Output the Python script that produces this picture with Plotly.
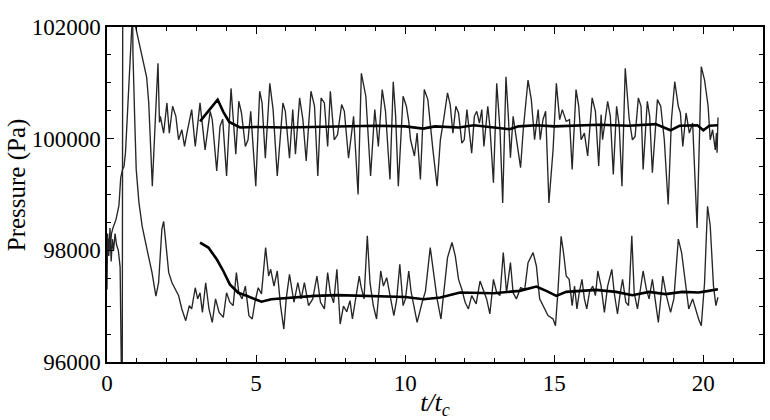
import plotly.graph_objects as go

# ---------------- data ----------------
upper_t = [0.00, 0.05, 0.10, 0.15, 0.20, 0.30, 0.40, 0.46, 0.52, 0.57, 0.62, 0.70, 0.76, 0.81, 0.86, 0.92,
           1.00, 1.07, 1.23, 1.33, 1.40, 1.47, 1.52, 1.62, 1.71, 1.76, 1.79, 1.90, 2.01, 2.09, 2.20, 2.31,
           2.40, 2.51, 2.60, 2.68, 2.76, 2.84, 2.96, 3.12, 3.29, 3.46, 3.53, 3.68, 3.79, 3.88, 4.01, 4.16,
           4.32, 4.42, 4.51, 4.64, 4.73, 4.82, 4.99, 5.12, 5.20, 5.31, 5.46, 5.57, 5.71, 5.90, 5.98, 6.12,
           6.23, 6.32, 6.46, 6.57, 6.68, 6.84, 6.96, 7.07, 7.18, 7.29, 7.40, 7.49, 7.62, 7.73, 7.87, 7.96,
           8.10, 8.27, 8.42, 8.53, 8.68, 8.84, 8.98, 9.10, 9.23, 9.34, 9.49, 9.60, 9.68, 9.77, 9.93, 10.04,
           10.12, 10.18, 10.31, 10.40, 10.51, 10.64, 10.76, 10.84, 10.93, 11.07, 11.18, 11.29, 11.42, 11.51,
           11.60, 11.70, 11.79, 11.90, 11.98, 12.07, 12.16, 12.23, 12.32, 12.40, 12.49, 12.57, 12.64, 12.77,
           12.84, 12.96, 13.07, 13.18, 13.27, 13.38, 13.46, 13.53, 13.62, 13.71, 13.87, 13.96, 14.12, 14.23,
           14.34, 14.46, 14.53, 14.62, 14.71, 14.82, 14.96, 15.07, 15.18, 15.27, 15.40, 15.51, 15.60, 15.73,
           15.82, 15.90, 16.01, 16.12, 16.27, 16.38, 16.49, 16.57, 16.62, 16.79, 16.88, 16.98, 17.09, 17.18,
           17.27, 17.38, 17.51, 17.62, 17.71, 17.82, 17.91, 17.98, 18.12, 18.20, 18.29, 18.46, 18.57, 18.69,
           18.82, 18.93, 19.04, 19.16, 19.23, 19.31, 19.42, 19.53, 19.64, 19.79, 19.93, 20.04, 20.16, 20.23,
           20.31, 20.40, 20.44, 20.46, 20.49]
upper_p = [97900, 98200, 98000, 98300, 98400, 98550, 98800, 99300, 99450, 99500, 99750, 100700, 101500, 102050, 102300, 102100,
           101900, 101720, 101360, 101100, 100640, 99750, 99150, 100340, 101350, 100290, 100400, 100100, 100640, 100100, 100580, 100400,
           99980, 100160, 99860, 100100, 100340, 100520, 99860, 100640, 99800, 100490, 100340, 99420, 100220, 100350, 99330, 100900,
           99720, 100670, 100460, 99860, 99980, 100490, 99150, 100850, 100640, 99650, 100990, 100520, 99330, 100640, 100490, 99650,
           100520, 99720, 100730, 100340, 99600, 100850, 100580, 99330, 100730, 100640, 99860, 100850, 99980, 100070, 100610, 100490,
           99650, 100400, 99000, 101170, 100760, 99330, 100520, 99860, 100880, 100490, 99270, 101020, 100400, 99150, 100760, 100580,
           100310, 99980, 99690, 100100, 99270, 100880, 100700, 100220, 99800, 99150, 99980, 100340, 100820, 100610,
           100100, 100580, 100460, 99920, 99980, 100520, 100100, 99740, 100400, 100490, 100280, 100520, 99860, 100580,
           100220, 99210, 100990, 100160, 98850, 101110, 100400, 99660, 100400, 100040, 99480, 100160, 101050, 100700,
           99980, 100520, 99980, 100340, 100490, 98850, 99800, 100990, 100340, 100520, 100310, 100340, 99450, 100880,
           100580, 99980, 100100, 99690, 100730, 100490, 99510, 100430, 99980, 100670, 100400, 99360, 100580, 100220,
           99150, 101260, 100370, 99980, 100040, 100730, 100580, 99450, 100670, 100400, 99390, 100700, 100580, 99980,
           98820, 100340, 101020, 100580, 100460, 99860, 100460, 100100, 100280, 98400, 101290, 101050, 100580, 99980,
           100160, 99800, 100100, 99750, 100380]

lower_t = [0.00, 0.02, 0.06, 0.10, 0.14, 0.18, 0.22, 0.27, 0.32, 0.38, 0.44, 0.48, 0.50, 0.51, 0.53, 0.85,
           0.87, 0.93, 0.98, 1.07, 1.18, 1.34, 1.51, 1.64, 1.73, 1.84, 1.90, 1.96, 2.07, 2.18, 2.29, 2.40,
           2.51, 2.64, 2.76, 2.84, 2.96, 3.04, 3.12, 3.20, 3.31, 3.42, 3.53, 3.64, 3.76, 3.90, 4.01, 4.12,
           4.23, 4.34, 4.42, 4.53, 4.64, 4.76, 4.87, 4.96, 5.07, 5.18, 5.32, 5.42, 5.49, 5.60, 5.71, 5.82,
           5.93, 6.01, 6.12, 6.27, 6.40, 6.51, 6.62, 6.76, 6.90, 7.04, 7.16, 7.29, 7.40, 7.49, 7.60, 7.71,
           7.82, 7.93, 8.04, 8.15, 8.23, 8.34, 8.46, 8.52, 8.62, 8.73, 8.82, 8.93, 9.04, 9.18, 9.27, 9.38,
           9.49, 9.62, 9.71, 9.82, 9.93, 10.01, 10.12, 10.20, 10.29, 10.40, 10.57, 10.68, 10.84, 10.96,
           11.07, 11.20, 11.31, 11.42, 11.57, 11.68, 11.79, 11.90, 12.01, 12.12, 12.23, 12.38, 12.51, 12.62,
           12.73, 12.84, 12.96, 13.07, 13.18, 13.29, 13.40, 13.53, 13.62, 13.73, 13.87, 14.01, 14.12, 14.29,
           14.40, 14.51, 14.68, 14.79, 14.96, 15.04, 15.12, 15.23, 15.31, 15.40, 15.50, 15.60, 15.68, 15.76,
           15.84, 15.93, 16.01, 16.09, 16.18, 16.29, 16.38, 16.46, 16.57, 16.68, 16.79, 16.93, 17.01, 17.12,
           17.20, 17.29, 17.40, 17.49, 17.60, 17.68, 17.79, 17.90, 17.98, 18.09, 18.18, 18.29, 18.38, 18.49,
           18.57, 18.64, 18.76, 18.90, 19.01, 19.16, 19.27, 19.40, 19.51, 19.64, 19.76, 19.84, 19.93, 20.04,
           20.14, 20.23, 20.34, 20.42, 20.49]
lower_p = [97300, 98300, 97900, 98400, 97800, 98200, 98000, 98300, 98100, 98000, 97700, 96800, 95000, 95000, 103500, 103000,
           101540, 100340, 99450, 98860, 98430, 98020, 97600, 97180, 97420, 98380, 98520, 98200, 97600, 97420, 97300, 97190,
           96950, 96740, 97010, 96950, 97330, 97130, 97240, 96890, 97420, 96950, 96710, 97130, 96890, 96800, 97240, 97070,
           97010, 97600, 97240, 97130, 97360, 96830, 96770, 97070, 97330, 97220, 98050, 97540, 97660, 97360, 97630, 97010,
           96590, 97130, 97570, 97070, 97420, 97130, 97420, 97010, 97130, 97540, 97070, 96950, 97600, 97240, 97060, 97660,
           96680, 97000, 96900, 97100, 96770, 97150, 97540, 97350, 97130, 98260, 97420, 97010, 96770, 97630, 97360, 97510,
           97200, 96830, 97100, 97750, 97010, 97130, 97630, 97250, 97010, 96710, 97070, 97270, 98050, 97540,
           97130, 96770, 97300, 97870, 98140, 97900, 97480, 97300, 97070, 96950, 97190, 97040, 97450, 97300,
           97130, 96860, 97480, 97240, 97190, 97960, 97240, 97780, 97240, 97130, 97330, 97300, 97780, 97960,
           97720, 97130, 96950, 96830, 96770, 96650, 97240, 98250, 97960, 97540, 97480, 97010, 97360, 96950,
           97250, 97480, 97130, 96950, 97250, 97360, 97190, 97630, 97360, 96890, 97360, 97660, 97240, 96860,
           97190, 97480, 97070, 97010, 98260, 97240, 96950, 97360, 97630, 97300, 97130, 97480, 97130, 96710,
           97130, 97540, 97190, 96890, 97130, 98200, 97960, 97360, 96950, 97130, 96890, 96770, 96650, 97420,
           98790, 98440, 97360, 97010, 97160]

upper_mean_t = [3.12, 3.40, 3.71, 3.90, 4.10, 4.46, 5.0, 6.0, 7.0, 8.0, 9.0, 10.0, 10.6, 11.0, 11.8, 12.3,
                13.0, 13.5, 13.8, 14.4, 15.0, 15.6, 16.5, 17.5, 18.4, 18.9, 19.2, 19.8, 20.0, 20.2, 20.49]
upper_mean_p = [100310, 100500, 100700, 100480, 100300, 100200, 100210, 100200, 100210, 100220, 100230, 100220,
                100180, 100220, 100200, 100240, 100200, 100170, 100220, 100240, 100220, 100230, 100250, 100230,
                100260, 100150, 100230, 100240, 100150, 100230, 100240]

lower_mean_t = [3.12, 3.40, 3.68, 3.90, 4.12, 4.40, 4.68, 4.96, 5.18, 5.51, 6.18, 6.96, 7.73, 8.5, 9.62, 10.0,
                10.62, 11.18, 11.84, 12.96, 13.84, 14.4, 14.73, 15.07, 15.4, 16.4, 17.07, 17.62, 18.18, 18.73,
                19.29, 19.84, 20.18, 20.49]
lower_mean_p = [98140, 98050, 97840, 97630, 97390, 97240, 97185, 97125, 97080, 97125, 97155, 97185, 97197, 97190,
                97170, 97165, 97125, 97155, 97244, 97232, 97274, 97352, 97274, 97185, 97256, 97292, 97256, 97197,
                97256, 97215, 97256, 97244, 97274, 97304]

x_tickvals = [0, 5, 10, 15, 20]
x_ticktext = ["0", "5", "10", "15", "20"]
y_tickvals = [96000, 98000, 100000, 102000]
y_ticktext = ["96000", "98000", "100000", "102000"]
y_title = "Pressure (Pa)"
x_title = "<i>t/t<sub>c</sub></i>"

# ---------------- figure ----------------
FONT = "Liberation Serif"
noisy = dict(color="#262626", width=1.35)
mean = dict(color="#000000", width=2.6)

fig = go.Figure()
fig.add_trace(go.Scatter(x=upper_t, y=upper_p, mode="lines", line=noisy, showlegend=False))
fig.add_trace(go.Scatter(x=lower_t, y=lower_p, mode="lines", line=noisy, showlegend=False))
fig.add_trace(go.Scatter(x=upper_mean_t, y=upper_mean_p, mode="lines", line=mean, showlegend=False))
fig.add_trace(go.Scatter(x=lower_mean_t, y=lower_mean_p, mode="lines", line=mean, showlegend=False))

axis_common = dict(
    showline=True, linecolor="black", linewidth=1.5, mirror="ticks",
    ticks="inside", ticklen=7, tickwidth=1, tickcolor="black",
    showgrid=False, zeroline=False,
    tickfont=dict(family=FONT, size=23, color="black"),
)

fig.update_xaxes(
    range=[0, 22], tickvals=x_tickvals, ticktext=x_ticktext,
    minor=dict(ticks="inside", ticklen=4, dtick=1, tick0=0, tickcolor="black", showgrid=False),
    title=dict(text=x_title, font=dict(family=FONT, size=26, color="black"), standoff=0),
    **axis_common,
)
fig.update_yaxes(
    range=[96000, 102000], tickvals=y_tickvals, ticktext=y_ticktext,
    minor=dict(ticks="inside", ticklen=4, dtick=500, tick0=96000, tickcolor="black", showgrid=False),
    **axis_common,
)

# y-axis title placed as a rotated annotation (slightly above the plot centre, as in the reference)
fig.add_annotation(
    text=y_title, textangle=-90, xref="paper", yref="paper",
    x=-0.136, y=0.53, xanchor="center", yanchor="middle", showarrow=False,
    font=dict(family=FONT, size=25, color="black"),
)

fig.update_layout(
    width=770, height=420,
    margin=dict(l=107, r=5, t=27, b=57),
    paper_bgcolor="white", plot_bgcolor="white",
    font=dict(family=FONT, color="black"),
)

fig.write_html("out.html")
